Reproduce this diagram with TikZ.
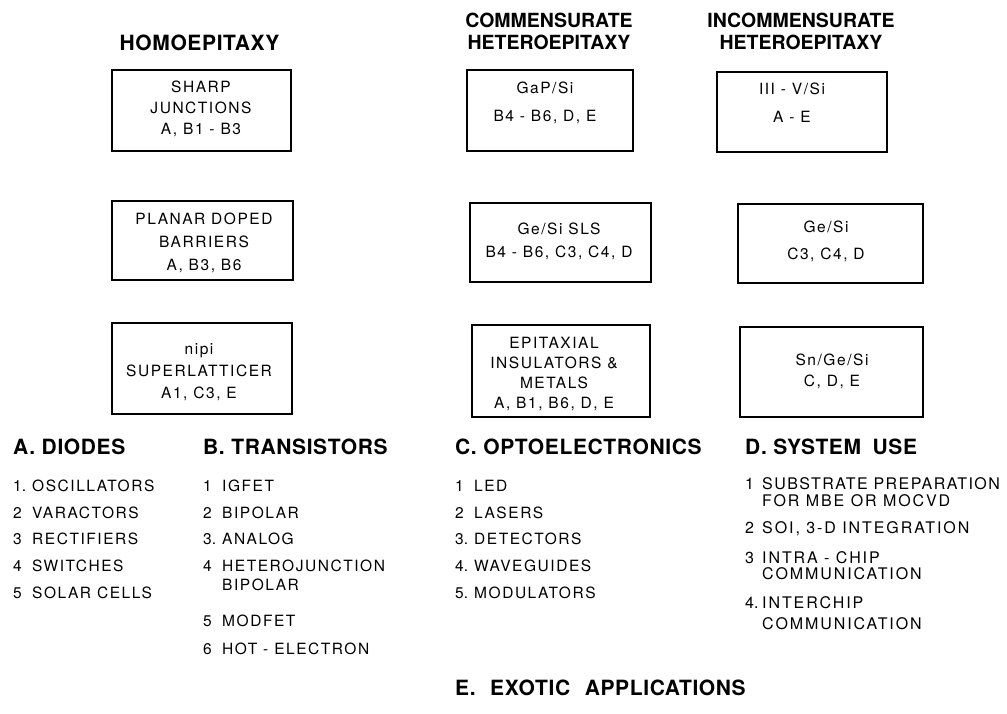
\documentclass[tikz,border=0pt]{standalone}
\usepackage{fontspec}
\setmainfont{TeX Gyre Heros}
\newfontfamily\itemfont[LetterSpace=10]{TeX Gyre Heros}
\newfontfamily\dfont[LetterSpace=12]{TeX Gyre Heros}
\newfontfamily\dtightfont[LetterSpace=9]{TeX Gyre Heros}
\newfontfamily\headfont[LetterSpace=3]{TeX Gyre Heros}
\newfontfamily\topfont{TeX Gyre Heros}
\newcommand\itemno[1]{\makebox[19pt][l]{\topfont #1}}
\newcommand\ditemno[1]{\makebox[17pt][l]{\topfont #1}}
\begin{document}
\begin{tikzpicture}[x=1pt,y=-1pt,
  box/.style 2 args={draw=black, line width=1.3pt, inner sep=0pt, minimum width=#1, minimum height=#2},
  btext/.style={align=center, inner sep=0pt, font=\itemfont\fontsize{15.5}{#1}\selectfont},
  itm/.style={anchor=base west, inner sep=0pt, font=\itemfont\fontsize{15.5}{19}\selectfont},
  ditm/.style={anchor=base west, inner sep=0pt, font=\dfont\fontsize{16}{19}\selectfont},
  head/.style={anchor=base west, inner sep=0pt, font=\headfont\bfseries\fontsize{21}{25}\selectfont},
  tophead/.style={align=center, inner sep=0pt, font=\topfont\bfseries\fontsize{19.5}{22}\selectfont}]
\fill[white] (0,0) rectangle (1007,713);
\useasboundingbox (0,0) rectangle (1007,713);

% column headings
\node[anchor=base, inner sep=0pt, font=\headfont\bfseries\fontsize{21}{22}\selectfont] (h1) at (199.5,50) {HOMOEPITAXY};
\node[tophead] (h2) at (549,31) {COMMENSURATE\\HETEROEPITAXY};
\node[tophead] (h3) at (801,31) {INCOMMENSURATE\\HETEROEPITAXY};

% row 1
\node[box={179pt}{81pt}] (b11) at (201.5,110.5) {};
\node[btext=21pt] (t11) at (201,109) {SHARP\\JUNCTIONS\\A, B1 - B3};
\node[box={166pt}{81pt}] (b12) at (550,110.5) {};
\node[btext=28pt] (t12) at (545,103) {GaP/Si\\B4 - B6, D, E};
\node[box={170pt}{80pt}] (b13) at (802,112) {};
\node[btext=28pt] (t13) at (792,103) {III - V/Si\\A - E};

% row 2
\node[box={181pt}{79pt}] (b21) at (202.5,240.5) {};
\node[btext=23pt] (t21) at (204,243) {PLANAR DOPED\\BARRIERS\\A, B3, B6};
\node[box={181pt}{79pt}] (b22) at (560.5,242.5) {};
\node[btext=23pt] (t22) at (559,241.5) {Ge/Si SLS\\B4 - B6, C3, C4, D};
\node[box={185pt}{79pt}] (b23) at (830.5,243.5) {};
\node[btext=27pt] (t23) at (826,241.5) {Ge/Si\\C3, C4, D};

% row 3
\node[box={180pt}{91pt}] (b31) at (202,368.5) {};
\node[btext=22pt] (t31) at (199,372) {nipi\\SUPERLATTICER\\A1, C3, E};
\node[box={178pt}{92pt}] (b32) at (561,371) {};
\node[btext=20pt] (t32) at (554,374) {EPITAXIAL\\INSULATORS \&\\METALS\\A, B1, B6, D, E};
\node[box={183pt}{90pt}] (b33) at (831.5,372) {};
\node[btext=21pt] (t33) at (832,371.5) {Sn/Ge/Si\\C, D, E};

% application headings
\node[head] (hA) at (13,454.5) {A. DIODES};
\node[head] (hB) at (203,454.5) {B. TRANSISTORS};
\node[head] (hC) at (455,454.5) {C. OPTOELECTRONICS};
\node[head] (hD) at (745,454.5) {D. SYSTEM\hspace{5pt} USE};
\node[head] (hE) at (455,695.5) {E.\hspace{8pt} EXOTIC\hspace{8pt} APPLICATIONS};

% A list
\node[itm] (a1) at (13,491) {\itemno{1.}OSCILLATORS};
\node[itm] (a2) at (13,518) {\itemno{2}VARACTORS};
\node[itm] (a3) at (13,544) {\itemno{3}RECTIFIERS};
\node[itm] (a4) at (13,571) {\itemno{4}SWITCHES};
\node[itm] (a5) at (13,598) {\itemno{5}SOLAR CELLS};

% B list
\node[itm] (bl1) at (203,491) {\itemno{1}IGFET};
\node[itm] (bl2) at (203,518) {\itemno{2}BIPOLAR};
\node[itm] (bl3) at (203,544) {\itemno{3.}ANALOG};
\node[itm] (bl4) at (203,571) {\itemno{4}HETEROJUNCTION};
\node[itm] (bl4b) at (222,590) {BIPOLAR};
\node[itm] (bl5) at (203,626) {\itemno{5}MODFET};
\node[itm] (bl6) at (203,654) {\itemno{6}HOT - ELECTRON};

% C list
\node[itm] (c1) at (455,491) {\itemno{1}LED};
\node[itm] (c2) at (455,518) {\itemno{2}LASERS};
\node[itm] (c3) at (455,544) {\itemno{3.}DETECTORS};
\node[itm] (c4) at (455,571) {\itemno{4.}WAVEGUIDES};
\node[itm] (c5) at (455,598) {\itemno{5.}MODULATORS};

% D list
\node[ditm, font=\dtightfont\fontsize{16}{19}\selectfont] (d1) at (745,489) {\ditemno{1}SUBSTRATE PREPARATION};
\node[ditm] (d1b) at (762,506) {FOR MBE OR MOCVD};
\node[ditm] (d2) at (745,533) {\ditemno{2}SOI, 3-D INTEGRATION};
\node[ditm] (d3) at (745,563) {\ditemno{3}INTRA - CHIP};
\node[ditm] (d3b) at (762,579) {COMMUNICATION};
\node[ditm] (d4) at (745,608) {\ditemno{4.}INTERCHIP};
\node[ditm] (d4b) at (762,629) {COMMUNICATION};
\end{tikzpicture}
\end{document}
